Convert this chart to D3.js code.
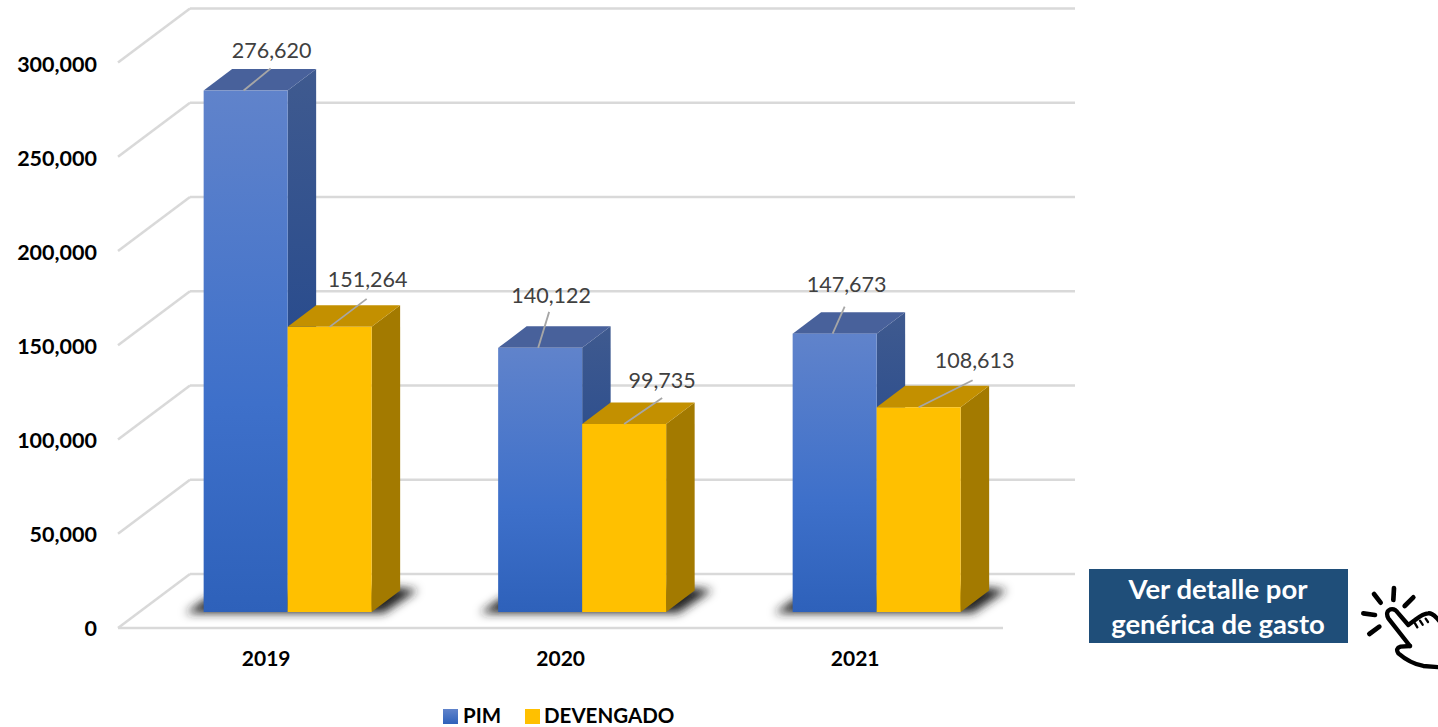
<!DOCTYPE html>
<html>
<head>
<meta charset="utf-8">
<script src="https://cdn.jsdelivr.net/npm/d3@7/dist/d3.min.js"></script>
<style>
  html, body { margin: 0; padding: 0; background: #fff; overflow: hidden; }
  svg { display: block; font-family: Lato, "Open Sans", sans-serif; }
</style>
</head>
<body>
<div id="chart"></div>
<script>
// data
const years = ["2019", "2020", "2021"];
const seriesNames = ["PIM", "DEVENGADO"];
const pimValues = [276620, 140122, 147673];
const devengadoValues = [151264, 99735, 108613];
const yTicks = [0, 50000, 100000, 150000, 200000, 250000, 300000];
const buttonLines = ["Ver detalle por", "genérica de gasto"];

const values = { PIM: pimValues, DEVENGADO: devengadoValues };

const W = 1438, H = 727;
const svg = d3.select("#chart").append("svg").attr("width", W).attr("height", H);

// 3d box settings
const wallDx = 72, wallDy = 54;   // depth of the chart floor
const barDx = 28.5, barDy = 21.5; // depth of a bar
const baseY = 612;                // front edge of the bars

const y = d3.scaleLinear().domain([0, 300000]).range([baseY, baseY - 565.5]);
const frontY = v => y(v) + 16;
const backY = v => frontY(v) - wallDy;

const x0 = d3.scaleBand().domain(years).range([140.4, 1023.9])
  .paddingInner(0.4295).paddingOuter(0.21475);
const x1 = d3.scaleBand().domain(seriesNames).range([0, x0.bandwidth()]);

// tick labels sit a little tighter than the gridlines
const axisY = d3.scaleLinear().domain(y.domain()).range([frontY(0) - 1.5, frontY(300000)]);

// gradients
const defs = svg.append("defs");
function addGradient(id, stops) {
  const g = defs.append("linearGradient").attr("id", id)
    .attr("x1", 0).attr("y1", 0).attr("x2", 0).attr("y2", 1);
  stops.forEach(s => g.append("stop").attr("offset", s[0]).attr("stop-color", s[1]));
}
addGradient("pimFront", [[0, "#6083cb"], [0.6, "#3e70ca"], [1, "#2e61ba"]]);
addGradient("pimSide", [[0, "#3f5a8f"], [0.6, "#25498d"], [1, "#1f4684"]]);
addGradient("legendPim", [[0, "#6083cb"], [1, "#2e61ba"]]);
defs.append("filter").attr("id", "blur")
  .attr("x", "-20%").attr("y", "-80%").attr("width", "140%").attr("height", "260%")
  .append("feGaussianBlur").attr("stdDeviation", 5);

const colors = {
  PIM: { front: "url(#pimFront)", side: "url(#pimSide)", top: "#48619b" },
  DEVENGADO: { front: "#ffc000", side: "#a37a00", top: "#c39000" }
};

// walls
const grid = svg.append("g").attr("fill", "none").attr("stroke", "#d9d9d9").attr("stroke-width", 2.5);
yTicks.forEach(t => {
  grid.append("line").attr("x1", 118).attr("y1", frontY(t))
    .attr("x2", 118 + wallDx).attr("y2", backY(t));
  grid.append("line").attr("x1", 118 + wallDx).attr("y1", backY(t))
    .attr("x2", 1075).attr("y2", backY(t));
});
grid.append("line").attr("x1", 118).attr("y1", frontY(0)).attr("x2", 1003).attr("y2", frontY(0));

// floor shadow
years.forEach(yr => {
  const l = x0(yr), r = l + x0.bandwidth();
  const pts = [[l - 18, baseY + 1], [r + 12, baseY + 1], [r + 46, baseY - 22], [r + 20, baseY - 25], [l + 4, baseY - 14]];
  svg.append("polygon").attr("points", pts.join(" "))
    .attr("fill", "#222").attr("filter", "url(#blur)");
});

// bars
const bars = svg.append("g");
years.forEach((yr, i) => {
  seriesNames.forEach(name => {
    const v = values[name][i];
    const l = x0(yr) + x1(name), r = l + x1.bandwidth();
    const t = y(v), b = y(0);
    const c = colors[name];
    const g = bars.append("g");
    g.append("polygon")
      .attr("points", [[r, t], [r + barDx, t - barDy], [r + barDx, b - barDy], [r, b]].join(" "))
      .attr("fill", c.side);
    g.append("polygon")
      .attr("points", [[l, t], [l + barDx, t - barDy], [r + barDx, t - barDy], [r, t]].join(" "))
      .attr("fill", c.top);
    g.append("rect").attr("x", l).attr("y", t).attr("width", r - l).attr("height", b - t)
      .attr("fill", c.front);
  });
});

// data labels and leader lines, offsets are from the middle of the bar top
const labelPlace = {
  "PIM-2019": { lx: 28, ly: -33, ex: 27, ey: -22 },
  "DEVENGADO-2019": { lx: 38, ly: -40, ex: 37, ey: -28 },
  "PIM-2020": { lx: 13, ly: -45, ex: 11, ey: -36 },
  "DEVENGADO-2020": { lx: 38, ly: -36, ex: 38, ey: -26 },
  "PIM-2021": { lx: 14, ly: -42, ex: 12, ey: -27 },
  "DEVENGADO-2021": { lx: 56, ly: -39, ex: 54, ey: -27 }
};
const labels = svg.append("g");
years.forEach((yr, i) => {
  seriesNames.forEach(name => {
    const v = values[name][i];
    const cx = x0(yr) + x1(name) + x1.bandwidth() / 2 + (name === "PIM" ? -2 : 0);
    const t = y(v);
    const p = labelPlace[name + "-" + yr];
    labels.append("line").attr("x1", cx).attr("y1", t).attr("x2", cx + p.ex).attr("y2", t + p.ey)
      .attr("stroke", "#a6a6a6").attr("stroke-width", 1.8);
    labels.append("text").attr("x", cx + p.lx).attr("y", t + p.ly)
      .attr("text-anchor", "middle").attr("font-size", 21.5).attr("fill", "#404040")
      .text(d3.format(",")(v));
  });
});

// axes
const yAxis = svg.append("g").attr("transform", "translate(97,0)")
  .call(d3.axisLeft(axisY).tickValues(yTicks).tickSize(0).tickPadding(0).tickFormat(d3.format(",")));
yAxis.select(".domain").remove();
yAxis.selectAll("text").attr("font-size", 21.5).attr("font-weight", 700).attr("fill", "#000")
  .attr("font-family", "Lato").attr("dy", "0.42em");

const xAxis = svg.append("g").attr("transform", "translate(-22,653)")
  .call(d3.axisBottom(d3.scalePoint().domain(years).range([x0("2019") + x0.bandwidth() / 2, x0("2021") + x0.bandwidth() / 2]))
    .tickSize(0).tickPadding(0));
xAxis.select(".domain").remove();
xAxis.selectAll("text").attr("font-size", 21).attr("font-weight", 700).attr("fill", "#000")
  .attr("font-family", "Lato").attr("y", 0).attr("dy", "0.62em");

// legend
const legendX = [443, 525];
seriesNames.forEach((name, i) => {
  svg.append("rect").attr("x", legendX[i]).attr("y", 709).attr("width", 15).attr("height", 15)
    .attr("fill", i === 0 ? "url(#legendPim)" : "#ffc000");
  svg.append("text").attr("x", legendX[i] + 20 - i).attr("y", 723)
    .attr("font-size", 20.5).attr("font-weight", 700).attr("fill", "#000").text(name);
});

// button
svg.append("rect").attr("x", 1089).attr("y", 569).attr("width", 259).attr("height", 74).attr("fill", "#1f4e79");
buttonLines.forEach((line, i) => {
  svg.append("text").attr("x", 1218).attr("y", 599 + i * 35)
    .attr("text-anchor", "middle").attr("font-size", 27.5).attr("font-weight", 700)
    .attr("fill", "#fff").text(line);
});

// hand icon
const hand = svg.append("g").attr("transform", "translate(1360,580) scale(0.3333)")
  .attr("fill", "none").attr("stroke", "#000").attr("stroke-linecap", "round").attr("stroke-linejoin", "round");
hand.append("path").attr("stroke-width", 13)
  .attr("d", "M150,198 L85,115 Q75,95 92,88 Q105,85 115,100 L145,135 L165,120 Q190,100 205,100 Q218,98 240,125");
hand.append("path").attr("stroke-width", 13)
  .attr("d", "M150,198 L122,200 Q105,205 115,220 Q150,250 190,258 L240,262");
hand.append("path").attr("stroke-width", 7)
  .attr("d", "M165,130 L172,142 M180,122 L188,134 M197,116 L204,126");
hand.append("path").attr("stroke-width", 14)
  .attr("d", "M42,42 L62,68 M102,24 L100,60 M160,52 L134,78 M10,100 L45,105 M28,162 L58,140");
</script>
</body>
</html>
